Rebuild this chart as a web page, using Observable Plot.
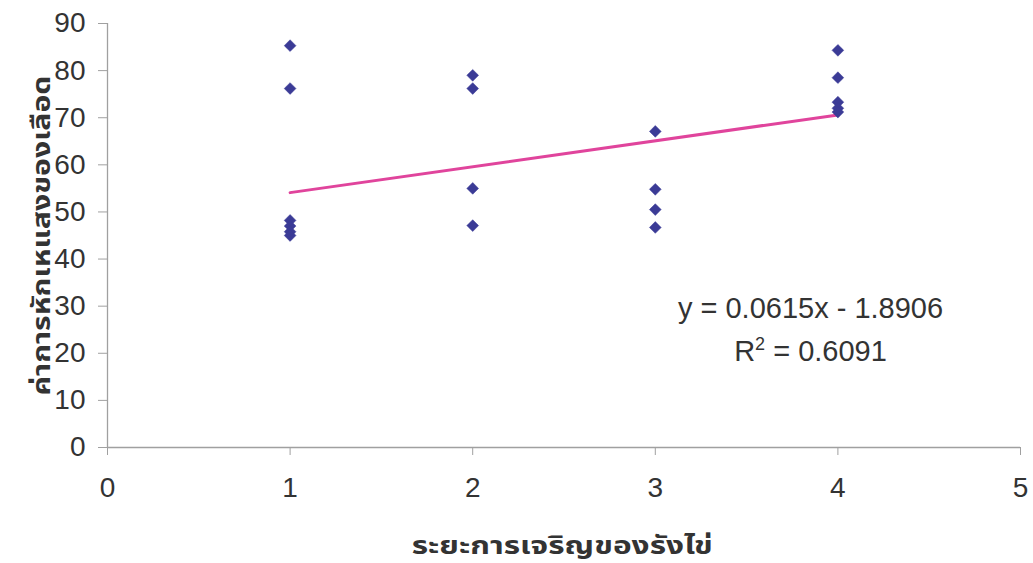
<!DOCTYPE html>
<html>
<head>
<meta charset="utf-8">
<script src="https://cdn.jsdelivr.net/npm/d3@7"></script>
<script src="https://cdn.jsdelivr.net/npm/@observablehq/plot@0.6"></script>
<style>
  html, body { margin: 0; padding: 0; background: #fff; }
  #chart { position: relative; width: 1033px; height: 563px; }
</style>
</head>
<body>
<div id="chart"></div>
<script>
// Data
const stageX = [1, 1, 1, 1, 1, 1, 2, 2, 2, 2, 3, 3, 3, 3, 4, 4, 4, 4, 4];
const valueY = [85.3, 76.2, 48.2, 47.0, 45.8, 45.0, 79.0, 76.2, 55.0, 47.1, 67.1, 54.8, 50.5, 46.7, 84.3, 78.5, 73.3, 72.0, 71.2];
const trendX = [1, 4];
const trendY = [54.1, 70.6];
const xTicks = [0, 1, 2, 3, 4, 5];
const yTicks = [0, 10, 20, 30, 40, 50, 60, 70, 80, 90];
const equationLine1 = "y = 0.0615x - 1.8906";
const equationLine2 = ["R", "2", " = 0.6091"];
const xTitle = "ระยะการเจริญของรังไข่";
const yTitle = "ค่าการหักเหแสงของเลือด";

const points = stageX.map((x, i) => ({x, y: valueY[i]}));
const trend = trendX.map((x, i) => ({x, y: trendY[i]}));

const font = "'Liberation Sans', Arial, sans-serif";
const thaiFont = "'Noto Sans Thai', 'Noto Sans', 'Liberation Sans', sans-serif";

const plot = Plot.plot({
  width: 1033,
  height: 563,
  marginLeft: 107,
  marginRight: 13,
  marginTop: 23,
  marginBottom: 116,
  style: {fontFamily: font, fontSize: "28px", background: "#fff", color: "#333"},
  x: {domain: [0, 5], label: null},
  y: {domain: [0, 90], label: null},
  marks: [
    Plot.ruleX([0], {stroke: "#a0a0a0", strokeWidth: 1.3}),
    Plot.ruleY([0], {stroke: "#a0a0a0", strokeWidth: 1.3}),
    Plot.axisX({ticks: xTicks, tickSize: 8, tickPadding: 22, stroke: "#a0a0a0", fill: "#333", fontSize: 28, label: null, tickFormat: d => String(d)}),
    Plot.axisY({ticks: yTicks, tickSize: 9, tickPadding: 13, stroke: "#a0a0a0", fill: "#333", fontSize: 28, label: null, tickFormat: d => String(d)}),
    Plot.line(trend, {x: "x", y: "y", stroke: "#e0449c", strokeWidth: 3}),
    Plot.dot(points, {x: "x", y: "y", symbol: "diamond2", r: 5.3, fill: "#3b3b96", stroke: "#3b3b96", strokeWidth: 0.5}),
    Plot.text([equationLine1], {x: 3.85, y: 29.5, text: d => d, fontSize: 29, fill: "#333", textAnchor: "middle"}),
    Plot.text([equationLine2.join("")], {x: 3.85, y: 20.3, text: d => d, fontSize: 29, fill: "#333", textAnchor: "middle", className: "r2"}),
    Plot.text([xTitle], {x: 2.49, y: 0, dy: 98, text: d => d, fontSize: 25, fontWeight: "bold", fill: "#333", textAnchor: "middle", fontFamily: thaiFont, className: "xtitle"}),
    Plot.text([yTitle], {x: 0, y: 45, dx: -66, rotate: -90, text: d => d, fontSize: 25, fontWeight: "bold", fill: "#333", textAnchor: "middle", fontFamily: thaiFont, className: "ytitle"})
  ]
});

// Stretch the Thai titles to match the wider original typeface
d3.select(plot).selectAll(".xtitle text").attr("textLength", 301).attr("lengthAdjust", "spacingAndGlyphs");
d3.select(plot).selectAll(".ytitle text").attr("textLength", 320).attr("lengthAdjust", "spacingAndGlyphs");

// Render R² with a raised superscript 2
d3.select(plot).selectAll(".r2 text").each(function() {
  const t = d3.select(this);
  t.text(null);
  t.append("tspan").text(equationLine2[0]);
  t.append("tspan").attr("dy", -11).attr("font-size", 18).text(equationLine2[1]);
  t.append("tspan").attr("dy", 11).text(equationLine2[2]);
});

document.getElementById("chart").appendChild(plot);
</script>
</body>
</html>
